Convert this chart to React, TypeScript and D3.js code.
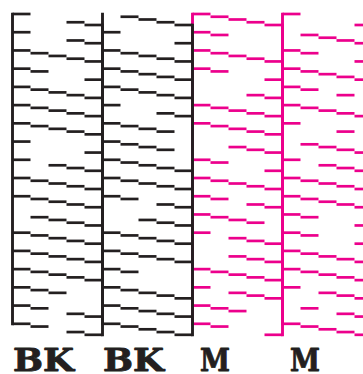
import React from "react";
import * as d3 from "d3";

// Nozzle-check pattern: each block has 18 rows, each row 5 staircase segments.
// "1" = segment printed, "0" = segment missing.
const blockBK1: string[] = [
  "10011", "10011", "11111", "11001", "11111", "11111", "11111", "10001", "10111",
  "11111", "11111", "01111", "11111", "11111", "11111", "11100", "11011", "11011",
];
const blockBK2: string[] = [
  "01111", "10001", "11111", "11111", "11111", "10011", "11110", "11110", "11111",
  "11111", "11011", "00111", "11111", "11111", "11000", "11111", "11111", "11111",
];
const blockM1: string[] = [
  "11111", "11000", "11111", "11001", "00011", "11111", "11111", "00111", "11001",
  "11111", "11011", "11110", "10111", "00111", "11111", "10111", "11100", "11001",
];
const blockM2: string[] = [
  "10001", "01111", "11001", "11111", "11010", "11111", "10010", "01111", "10111",
  "11111", "11111", "11001", "11001", "11111", "11111", "10111", "01011", "11111",
];

const blocks = [blockBK1, blockBK2, blockM1, blockM2];
const blockLabels = ["BK", "BK", "M", "M"];
const blockColors = ["#231f20", "#231f20", "#ec008c", "#ec008c"];

const W = 363;
const H = 374;
const ROWS = 18;
const SEGS = 5;

export default function App() {
  const xBlock = d3.scaleLinear().domain([0, 4]).range([12.5, 372.5]);
  const xSeg = d3.scaleLinear().domain([0, SEGS]).range([0, 90]);
  const yRow = d3.scaleLinear().domain([0, ROWS - 1]).range([14, 323.8]);
  const yStep = d3.scaleLinear().domain([0, SEGS - 1]).range([0, 11]);

  const segW = 2.7;
  const vW = 2.9;

  const segments: { x1: number; x2: number; y: number; c: string; key: string }[] = [];
  blocks.forEach((rows, b) => {
    rows.forEach((pattern, r) => {
      for (let k = 0; k < SEGS; k++) {
        if (pattern[k] === "1") {
          segments.push({
            x1: xBlock(b) + xSeg(k),
            x2: xBlock(b) + xSeg(k + 1),
            y: yRow(r) + yStep(k),
            c: blockColors[b],
            key: `${b}-${r}-${k}`,
          });
        }
      }
    });
  });

  // left verticals first, then right verticals (so black overlays magenta at the junction)
  const leftLines = blocks.map((_, b) => ({
    x: xBlock(b),
    y1: yRow(0) - segW / 2,
    y2: yRow(ROWS - 1) + segW / 2,
    c: blockColors[b],
  }));
  const rightLines = blocks.map((_, b) => ({
    x: xBlock(b + 1),
    y1: yRow(0) + yStep(SEGS - 1) - segW / 2,
    y2: yRow(ROWS - 1) + yStep(SEGS - 1) + segW / 2,
    c: blockColors[b],
  }));

  return (
    <svg
      width={W}
      height={H}
      style={{ position: "absolute", left: 0, top: 0, background: "#fff" }}
    >
      <rect x={0} y={0} width={W} height={H} fill="#fff" />
      {leftLines.map((l, i) => (
        <line key={`l${i}`} x1={l.x} x2={l.x} y1={l.y1} y2={l.y2} stroke={l.c} strokeWidth={vW} />
      ))}
      {segments.map((s) => (
        <line key={s.key} x1={s.x1} x2={s.x2} y1={s.y} y2={s.y} stroke={s.c} strokeWidth={segW} />
      ))}
      {rightLines.map((l, i) => (
        <line key={`r${i}`} x1={l.x} x2={l.x} y1={l.y1} y2={l.y2} stroke={l.c} strokeWidth={vW} />
      ))}
      {blockLabels.map((t, b) => {
        const isBK = t === "BK";
        return (
          <text
            key={`t${b}`}
            x={xBlock(b) + (isBK ? 31 : 22.5)}
            y={370.5}
            textAnchor="middle"
            fontFamily="'DejaVu Serif', serif"
            fontWeight="bold"
            fontSize={31}
            fill="#231f20"
            stroke="#231f20"
            strokeWidth={0.9}
            strokeLinejoin="round"
            textLength={isBK ? 61 : 30}
            lengthAdjust="spacingAndGlyphs"
          >
            {t}
          </text>
        );
      })}
    </svg>
  );
}
